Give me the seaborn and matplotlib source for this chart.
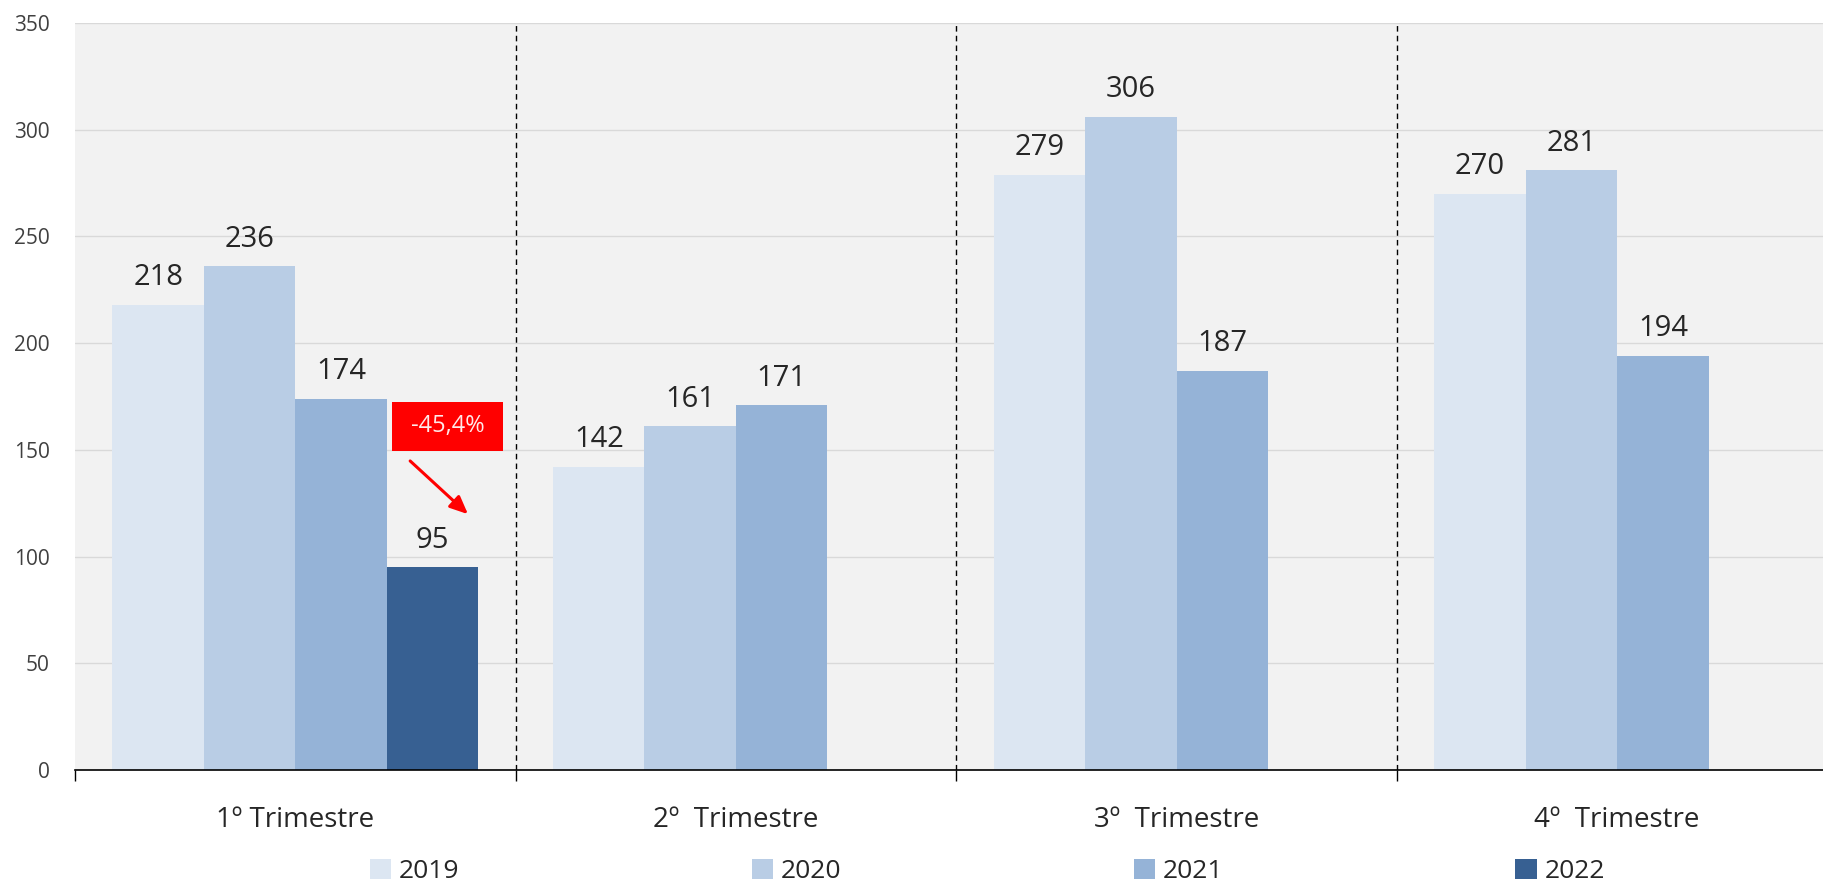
import numpy as np
import pandas as pd
import matplotlib
matplotlib.use("Agg")
import matplotlib.pyplot as plt
from matplotlib.patches import Patch, Rectangle
import seaborn as sns

# chart data
trimestres = ["1º Trimestre", "2º  Trimestre", "3º  Trimestre", "4º  Trimestre"]
anos = ["2019", "2020", "2021", "2022"]
v2019 = [218, 142, 279, 270]
v2020 = [236, 161, 306, 281]
v2021 = [174, 171, 187, 194]
v2022 = [95, np.nan, np.nan, np.nan]
cores = ["#DCE6F2", "#B9CDE5", "#95B3D7", "#376092"]
y_ticks = [0, 50, 100, 150, 200, 250, 300, 350]

rows = []
for ano, vals in zip(anos, [v2019, v2020, v2021, v2022]):
    for t, v in zip(trimestres, vals):
        rows.append({"Trimestre": t, "Ano": ano, "Valor": v})
df = pd.DataFrame(rows).dropna()

sns.set_theme(style="white")
plt.rcParams["font.family"] = ["Open Sans", "DejaVu Sans"]
txt = "#404040"

fig = plt.figure(figsize=(18.23, 8.86), dpi=100)
ax = fig.add_axes([0.04114, 0.1309, 0.9668, 0.8431])
ax.set_facecolor("#F2F2F2")

sns.barplot(data=df, x="Trimestre", y="Valor", hue="Ano", order=trimestres,
            hue_order=anos, palette=cores, width=0.83, gap=0, dodge=True,
            saturation=1, legend=False, linewidth=0, ax=ax)

for cont in ax.containers:
    ax.bar_label(cont, fmt="%d", padding=9, fontsize=21, color="#262626")

ax.set_xlim(-0.5, 3.5)
ax.set_ylim(0, 350)
ax.set_yticks(y_ticks)
ax.yaxis.grid(True, color="#D9D9D9", linewidth=1)
ax.set_axisbelow(True)
ax.set_xlabel("")
ax.set_ylabel("")

for s in ["top", "left", "right"]:
    ax.spines[s].set_visible(False)
ax.spines["bottom"].set_color("black")
ax.spines["bottom"].set_linewidth(1.2)

# separators
for xb in [0.5, 1.5, 2.5]:
    ax.axvline(xb, color="black", linestyle=(0, (4, 3)), linewidth=1, zorder=1)

ax.tick_params(axis="y", length=0, pad=18, labelsize=15, labelcolor=txt)
ax.tick_params(axis="x", which="major", length=0, pad=26, labelsize=20, labelcolor="#262626")
ax.set_xticks([-0.5, 0.5, 1.5, 2.5, 3.5], minor=True)
ax.tick_params(axis="x", which="minor", bottom=True, length=8, width=1,
               color="black", direction="out")

# variation annotation
ax.add_patch(Rectangle((0.2195, 149.5), 0.2519, 22.9, facecolor="red",
                       edgecolor="none", zorder=4))
ax.text(0.345, 161, "-45,4%", ha="center", va="center", fontsize=17,
        color="#FFE8E8", zorder=5)
ax.annotate("", xy=(0.3965, 119), xytext=(0.256, 145.7),
            arrowprops=dict(arrowstyle="-|>,head_width=0.4,head_length=0.9",
                            color="red", linewidth=2.2))

handles = [Patch(facecolor=c, edgecolor="none") for c in cores]
fig.legend(handles, anos, loc="center", ncol=4, mode="expand",
           bbox_to_anchor=(370 / 1823, 0.0, (1605 - 370) / 1823, 0.033),
           frameon=False, fontsize=19, handlelength=0.8, handleheight=0.8,
           handletextpad=0.3, borderpad=0, borderaxespad=0, labelcolor="#262626")

fig.savefig("out.png", dpi=100)
